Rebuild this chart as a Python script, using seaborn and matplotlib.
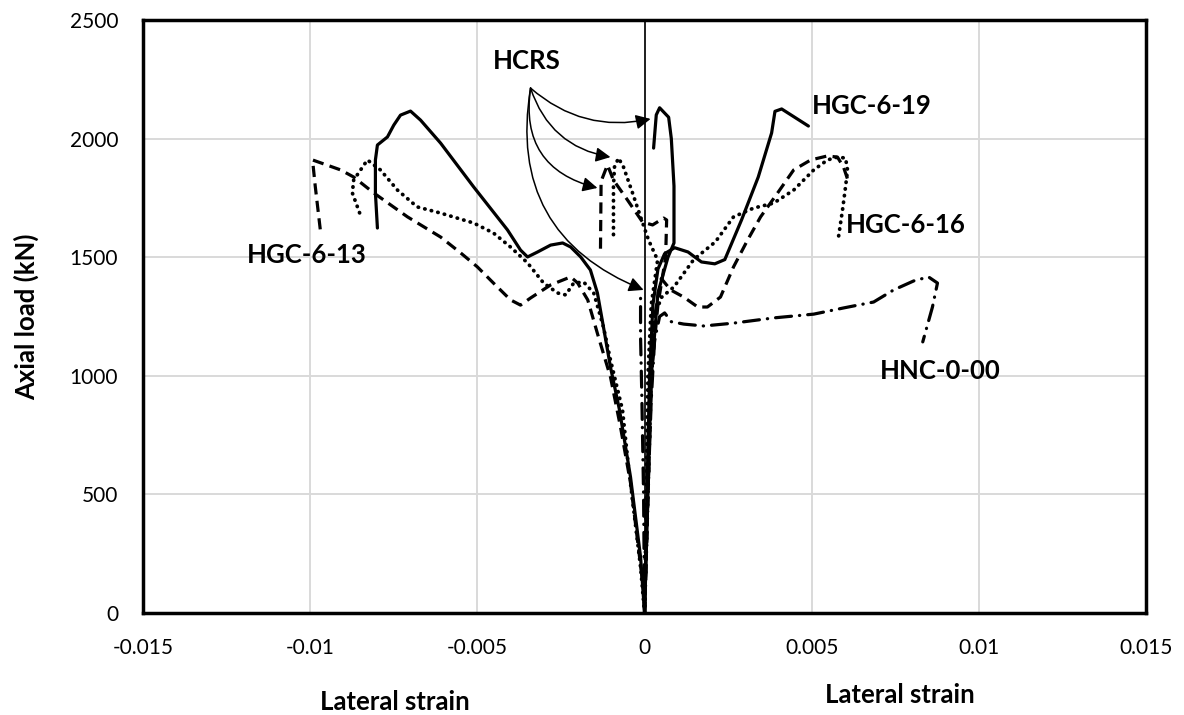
import matplotlib
matplotlib.use("Agg")
import matplotlib.pyplot as plt
import seaborn as sns
import pandas as pd

# HGC-6-19 (solid line)
x_19_left = [0, -0.00012, -0.00042, -0.00075, -0.00102, -0.00123, -0.00141, -0.00162, -0.00191,
             -0.00221, -0.00245, -0.00281, -0.0032, -0.0035, -0.00371, -0.0041, -0.00511, -0.0061,
             -0.0067, -0.0070, -0.0073, -0.0075, -0.00769, -0.00799, -0.00805, -0.00805, -0.00799]
y_19_left = [0, 236, 573, 856, 1037, 1206, 1349, 1446, 1501,
             1543, 1560, 1551, 1522, 1501, 1530, 1615, 1796, 1981,
             2078, 2116, 2099, 2057, 2007, 1973, 1910, 1771, 1623]
x_19_right = [0, 0.00005, 0.0001, 0.00015, 0.00025, 0.0004, 0.0006, 0.0009, 0.0013, 0.0017,
              0.0021, 0.0024, 0.0029, 0.0034, 0.0038, 0.0039, 0.0041, 0.0049]
y_19_right = [0, 300, 700, 1000, 1300, 1450, 1515, 1540, 1522, 1480,
              1472, 1490, 1657, 1838, 2024, 2115, 2125, 2053]
x_19_hcrs = [0, 0.0001, 0.0002, 0.0004, 0.0007, 0.00088, 0.00088, 0.0008, 0.00072, 0.00045,
             0.00035, 0.00027]
y_19_hcrs = [0, 500, 1000, 1350, 1500, 1560, 1800, 2000, 2090, 2130, 2100, 1960]

# HGC-6-16 (dotted line)
x_16_left = [0, -0.00012, -0.00048, -0.00066, -0.00102, -0.00123, -0.00152, -0.00182, -0.00212,
             -0.00236, -0.0026, -0.00302, -0.0035, -0.00401, -0.00452, -0.00511, -0.0061,
             -0.0068, -0.00739, -0.0079, -0.00829, -0.0087, -0.00874, -0.0085]
y_16_left = [0, 194, 616, 856, 1067, 1206, 1349, 1395, 1391,
             1341, 1349, 1391, 1476, 1543, 1602, 1644, 1686,
             1712, 1783, 1868, 1910, 1825, 1771, 1678]
x_16_right = [0, 0.0001, 0.0002, 0.0003, 0.0005, 0.00088, 0.00147, 0.00212, 0.00266, 0.00326,
              0.00386, 0.00446, 0.00506, 0.00547, 0.00577, 0.00601, 0.00607, 0.00601, 0.00592,
              0.0058]
y_16_right = [0, 500, 1000, 1250, 1330, 1375, 1490, 1565, 1670, 1707,
              1728, 1783, 1868, 1910, 1922, 1918, 1868, 1796, 1699,
              1585]
x_16_hcrs = [0, 0.00005, 0.0001, 0.0002, 0.00039, 0.00012, -0.00012, -0.00036, -0.00063,
             -0.00078, -0.0009, -0.00093, -0.00093]
y_16_hcrs = [0, 500, 1000, 1300, 1488, 1572, 1670, 1771, 1880, 1918, 1880, 1800, 1585]

# HGC-6-13 (dashed line)
x_13_left = [0, -0.00003, -0.00042, -0.00072, -0.00102, -0.00138, -0.0017, -0.002, -0.00221,
             -0.00281, -0.00341, -0.00371, -0.00401, -0.00452, -0.005, -0.0055, -0.0061,
             -0.00709, -0.0081, -0.0087, -0.00909, -0.00993, -0.00985, -0.00969]
y_13_left = [0, 97, 548, 784, 995, 1164, 1320, 1391, 1417,
             1383, 1328, 1298, 1320, 1391, 1459, 1518, 1585,
             1670, 1771, 1838, 1868, 1910, 1800, 1606]
x_13_right = [0, 0.0001, 0.0002, 0.0003, 0.0005, 0.00078, 0.00117, 0.00159, 0.00188, 0.00227,
              0.00266, 0.00308, 0.00347, 0.00398, 0.00446, 0.00497, 0.00547, 0.00577, 0.00595,
              0.0061]
y_13_right = [0, 500, 950, 1250, 1410, 1362, 1332, 1290, 1290, 1332,
              1459, 1572, 1670, 1771, 1868, 1910, 1927, 1922, 1880,
              1817]
x_13_hcrs = [0, 0.0001, 0.0002, 0.0004, 0.00063, 0.00066, 0.00057, 0.00024, -0.00006, -0.00051,
             -0.00093, -0.00111, -0.0013, -0.00132]
y_13_hcrs = [0, 500, 1000, 1300, 1500, 1657, 1665, 1636, 1648, 1741, 1825, 1889, 1820, 1509]

# HNC-0-00 (dash-dot line)
x_00_right = [0, 0.0001, 0.0002, 0.0003, 0.00045, 0.0006, 0.0008, 0.00117, 0.00177, 0.00266,
              0.00386, 0.00506, 0.00595, 0.00685, 0.00745, 0.00805, 0.00849, 0.00876, 0.00861,
              0.00832]
y_00_right = [0, 500, 900, 1150, 1250, 1265, 1228, 1218, 1210, 1222,
              1244, 1260, 1286, 1311, 1362, 1400, 1417, 1391, 1290,
              1143]
x_00_hcrs = [0, -0.00003, -0.00008, -0.00012, -0.00012]
y_00_hcrs = [0, 500, 900, 1164, 1360]

# annotations: text, x, y
labels = ["HGC-6-19", "HGC-6-16", "HGC-6-13", "HNC-0-00", "HCRS"]
label_x = [0.0068, 0.0078, -0.0101, 0.00885, -0.00353]
label_y = [2137, 1636, 1509, 1020, 2327]

# HCRS arrows: start and end points
arrow_start = (-0.00341, 2213)
arrow_end_x = [0.00018, -0.00102, -0.00141, -0.00003]
arrow_end_y = [2083, 1922, 1792, 1362]
arrow_rad = [0.25, 0.3, 0.45, 0.4]

sns.set_theme(style="whitegrid")
plt.rcParams['font.family'] = ['Lato', 'DejaVu Sans']
plt.rcParams['text.color'] = 'black'
plt.rcParams['axes.labelcolor'] = 'black'

fig = plt.figure(figsize=(11.84, 7.15), dpi=100)
ax = fig.add_axes([0.1208, 0.1427, 0.8472, 0.8293])

styles = {
    'solid': dict(linestyle='-', lw=2.3),
    'dotted': dict(linestyle=(0, (0.1, 1.7)), lw=2.7, dash_capstyle='round'),
    'dashed': dict(linestyle=(0, (3.5, 2.0)), lw=2.3),
    'dashdot': dict(linestyle=(0, (5, 2.5, 0.1, 2.5)), lw=2.3, dash_capstyle='round'),
}

curves = [
    (x_19_left, y_19_left, 'solid'), (x_19_right, y_19_right, 'solid'), (x_19_hcrs, y_19_hcrs, 'solid'),
    (x_16_left, y_16_left, 'dotted'), (x_16_right, y_16_right, 'dotted'), (x_16_hcrs, y_16_hcrs, 'dotted'),
    (x_13_left, y_13_left, 'dashed'), (x_13_right, y_13_right, 'dashed'), (x_13_hcrs, y_13_hcrs, 'dashed'),
    (x_00_right, y_00_right, 'dashdot'), (x_00_hcrs, y_00_hcrs, 'dashdot'),
]
for xs, ys, st in curves:
    df = pd.DataFrame({'strain': xs, 'load': ys})
    sns.lineplot(data=df, x='strain', y='load', sort=False, estimator=None,
                 color='black', ax=ax, **styles[st])

# thin vertical line at zero strain
ax.axvline(0, color='black', lw=1.2, zorder=1)

for i in range(4):
    ax.annotate('', xy=(arrow_end_x[i], arrow_end_y[i]), xytext=arrow_start,
                arrowprops=dict(arrowstyle='-|>', color='black', lw=1.1,
                                mutation_scale=22,
                                connectionstyle=f'arc3,rad={arrow_rad[i]}',
                                shrinkA=0, shrinkB=0))

for t, lx, ly in zip(labels, label_x, label_y):
    ax.text(lx, ly, t, ha='center', va='center', fontsize=18.5, fontweight='bold',
            color='black')

ax.set_xlim(-0.015, 0.015)
ax.set_ylim(0, 2500)
ax.set_xticks([-0.015, -0.01, -0.005, 0, 0.005, 0.01, 0.015])
ax.set_xticklabels(['-0.015', '-0.01', '-0.005', '0', '0.005', '0.01', '0.015'])
ax.set_yticks([0, 500, 1000, 1500, 2000, 2500])
ax.tick_params(axis='both', length=0, labelsize=15, colors='black')
ax.tick_params(axis='x', pad=18)
ax.tick_params(axis='y', pad=18)
ax.grid(True, color='#d9d9d9', lw=1.4)
ax.set_xlabel('')
ax.set_ylabel('Axial load (kN)', fontsize=18.5, fontweight='bold', labelpad=22,
              color='black')
for sp in ax.spines.values():
    sp.set_color('black')
    sp.set_linewidth(2.5)

fig.text(395 / 1184, 1 - 702 / 715, 'Lateral strain', ha='center', va='center',
         fontsize=18.5, fontweight='bold', color='black')
fig.text(900 / 1184, 1 - 695 / 715, 'Lateral strain', ha='center', va='center',
         fontsize=18.5, fontweight='bold', color='black')

fig.savefig('out.png', dpi=100)
